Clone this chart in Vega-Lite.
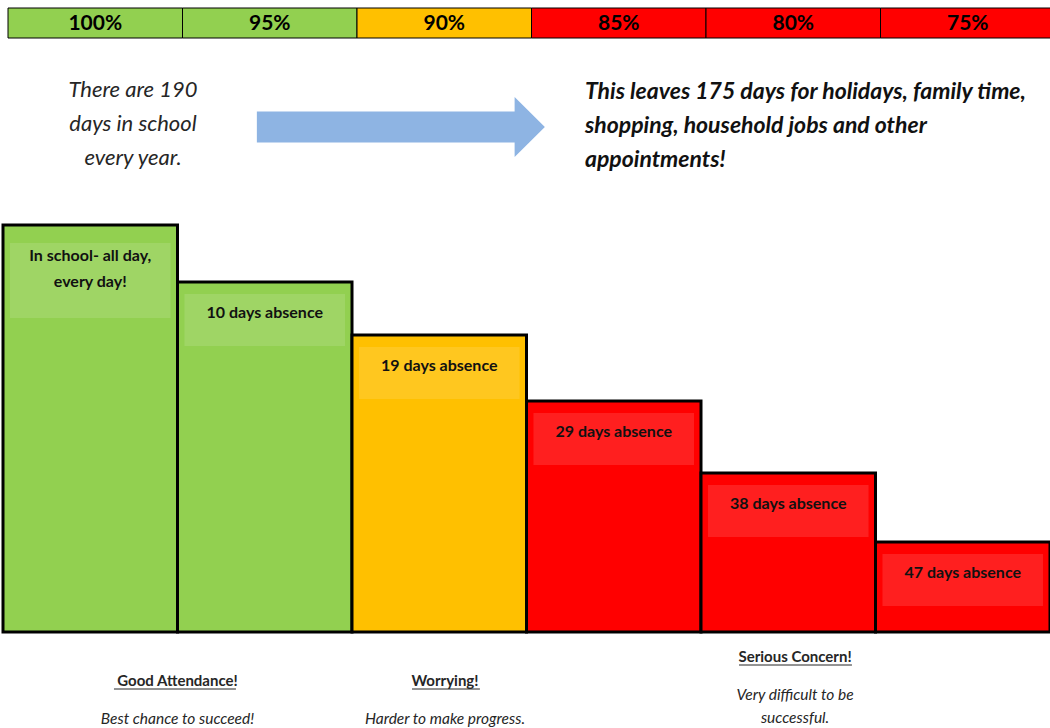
{
  "$schema": "https://vega.github.io/schema/vega-lite/v6.json",
  "autosize": {"type": "none"},
  "width": 1047,
  "height": 728,
  "padding": {"left": 3, "right": 0, "top": 0, "bottom": 0},
  "background": "white",
  "config": {"view": {"stroke": null}, "font": "Lato"},
  "data": {"values": [
    {"cat": "100%", "status": "Good", "height": 407, "label": "In school- all day,\nevery day!"},
    {"cat": "95%", "status": "Good", "height": 350, "label": "10 days absence"},
    {"cat": "90%", "status": "Worrying", "height": 297, "label": "19 days absence"},
    {"cat": "85%", "status": "Concern", "height": 231, "label": "29 days absence"},
    {"cat": "80%", "status": "Concern", "height": 159, "label": "38 days absence"},
    {"cat": "75%", "status": "Concern", "height": 90, "label": "47 days absence"}
  ]},
  "encoding": {
    "x": {"field": "cat", "type": "nominal", "axis": null, "sort": null,
      "scale": {"domain": ["100%", "95%", "90%", "85%", "80%", "75%"], "paddingInner": 0, "paddingOuter": 0}}
  },
  "layer": [
    {
      "mark": {"type": "rect", "xOffset": 5, "stroke": "black", "strokeWidth": 1},
      "encoding": {
        "y": {"datum": 624, "type": "quantitative", "axis": null, "scale": {"domain": [-96, 632], "zero": false, "nice": false}},
        "y2": {"datum": 594},
        "color": {"field": "status", "type": "nominal", "legend": null,
          "scale": {"domain": ["Good", "Worrying", "Concern"], "range": ["#92D050", "#FFC000", "#FF0000"]}}
      }
    },
    {
      "mark": {"type": "text", "dx": 5, "fontSize": 21, "fontWeight": "bold", "color": "black", "baseline": "middle"},
      "encoding": {
        "y": {"datum": 608, "type": "quantitative"},
        "text": {"field": "cat"}
      }
    },
    {
      "mark": {"type": "bar", "stroke": "black", "strokeWidth": 3, "width": {"band": 1}},
      "encoding": {
        "y": {"field": "height", "type": "quantitative"},
        "y2": {"datum": 0},
        "color": {"field": "status", "type": "nominal", "legend": null}
      }
    },
    {
      "transform": [{"filter": "datum.cat !== '100%'"}],
      "mark": {"type": "bar", "fill": "white", "fillOpacity": 0.12, "width": {"band": 0.92}, "yOffset": 12, "y2Offset": 64},
      "encoding": {
        "y": {"field": "height", "type": "quantitative"},
        "y2": {"field": "height"}
      }
    },
    {
      "transform": [{"filter": "datum.cat === '100%'"}],
      "mark": {"type": "bar", "fill": "white", "fillOpacity": 0.12, "width": {"band": 0.92}, "yOffset": 18, "y2Offset": 93},
      "encoding": {
        "y": {"field": "height", "type": "quantitative"},
        "y2": {"field": "height"}
      }
    },
    {
      "mark": {"type": "text", "baseline": "top", "yOffset": 23, "lineBreak": "\n", "lineHeight": 26, "fontSize": 16, "fontWeight": "bold", "color": "#111111"},
      "encoding": {
        "y": {"field": "height", "type": "quantitative"},
        "text": {"field": "label"}
      }
    },
    {
      "data": {"values": [{"t": "There are 190\ndays in school\nevery year."}]},
      "mark": {"type": "text", "lineBreak": "\n", "lineHeight": 34, "fontSize": 22, "fontStyle": "italic", "color": "#262626", "baseline": "middle", "align": "center"},
      "encoding": {
        "x": {"datum": "100%", "type": "nominal", "bandPosition": 0.745},
        "y": {"datum": 542, "type": "quantitative"},
        "text": {"field": "t"}
      }
    },
    {
      "data": {"values": [{"t": "arrow"}]},
      "mark": {"type": "point", "filled": true, "opacity": 1, "strokeWidth": 0, "color": "#8EB4E3",
        "shape": "M-1,-0.1076L0.79,-0.1076L0.79,-0.208L1,0L0.79,0.208L0.79,0.1076L-1,0.1076Z", "size": 82944},
      "encoding": {
        "x": {"datum": "90%", "type": "nominal", "bandPosition": 0.28},
        "y": {"datum": 505, "type": "quantitative"}
      }
    },
    {
      "data": {"values": [{"t": "This leaves 175 days for holidays, family time,\nshopping, household jobs and other\nappointments!"}]},
      "mark": {"type": "text", "lineBreak": "\n", "lineHeight": 34, "fontSize": 23, "fontStyle": "italic", "fontWeight": "bold", "color": "#111111", "baseline": "middle", "align": "left"},
      "encoding": {
        "x": {"datum": "85%", "type": "nominal", "bandPosition": 0.335},
        "y": {"datum": 540, "type": "quantitative"},
        "text": {"field": "t"}
      }
    },
    {
      "data": {"values": [{"t": "Good Attendance!"}]},
      "mark": {"type": "text", "fontSize": 15, "fontWeight": "bold", "color": "#262626", "baseline": "middle"},
      "encoding": {
        "x": {"datum": "95%", "type": "nominal", "bandPosition": 0},
        "y": {"datum": -49, "type": "quantitative"},
        "text": {"field": "t"}
      }
    },
    {
      "data": {"values": [{"t": "Best chance to succeed!"}]},
      "mark": {"type": "text", "fontSize": 15.5, "fontStyle": "italic", "color": "#262626", "baseline": "middle"},
      "encoding": {
        "x": {"datum": "95%", "type": "nominal", "bandPosition": 0},
        "y": {"datum": -87, "type": "quantitative"},
        "text": {"field": "t"}
      }
    },
    {
      "data": {"values": [{"t": "Worrying!"}]},
      "mark": {"type": "text", "fontSize": 15, "fontWeight": "bold", "color": "#262626", "baseline": "middle"},
      "encoding": {
        "x": {"datum": "90%", "type": "nominal", "bandPosition": 0.533},
        "y": {"datum": -49, "type": "quantitative"},
        "text": {"field": "t"}
      }
    },
    {
      "data": {"values": [{"t": "Harder to make progress."}]},
      "mark": {"type": "text", "fontSize": 15.5, "fontStyle": "italic", "color": "#262626", "baseline": "middle"},
      "encoding": {
        "x": {"datum": "90%", "type": "nominal", "bandPosition": 0.533},
        "y": {"datum": -87, "type": "quantitative"},
        "text": {"field": "t"}
      }
    },
    {
      "data": {"values": [{"t": "Serious Concern!"}]},
      "mark": {"type": "text", "fontSize": 15, "fontWeight": "bold", "color": "#262626", "baseline": "middle"},
      "encoding": {
        "x": {"datum": "80%", "type": "nominal", "bandPosition": 0.539},
        "y": {"datum": -25, "type": "quantitative"},
        "text": {"field": "t"}
      }
    },
    {
      "data": {"values": [{"t": "Very difficult to be\nsuccessful."}]},
      "mark": {"type": "text", "lineBreak": "\n", "lineHeight": 23, "fontSize": 15.5, "fontStyle": "italic", "color": "#262626", "baseline": "middle"},
      "encoding": {
        "x": {"datum": "80%", "type": "nominal", "bandPosition": 0.539},
        "y": {"datum": -63, "type": "quantitative"},
        "text": {"field": "t"}
      }
    },
    {
      "data": {"values": [{"t": "u"}]},
      "mark": {"type": "rule", "color": "#262626", "strokeWidth": 1},
      "encoding": {
        "x": {"datum": "100%", "type": "nominal", "bandPosition": 0.636},
        "x2": {"datum": "95%", "bandPosition": 0.335},
        "y": {"datum": -57, "type": "quantitative"}
      }
    },
    {
      "data": {"values": [{"t": "u"}]},
      "mark": {"type": "rule", "color": "#262626", "strokeWidth": 1},
      "encoding": {
        "x": {"datum": "90%", "type": "nominal", "bandPosition": 0.344},
        "x2": {"datum": "90%", "bandPosition": 0.733},
        "y": {"datum": -57, "type": "quantitative"}
      }
    },
    {
      "data": {"values": [{"t": "u"}]},
      "mark": {"type": "rule", "color": "#262626", "strokeWidth": 1},
      "encoding": {
        "x": {"datum": "80%", "type": "nominal", "bandPosition": 0.218},
        "x2": {"datum": "80%", "bandPosition": 0.865},
        "y": {"datum": -33, "type": "quantitative"}
      }
    }
  ]
}
